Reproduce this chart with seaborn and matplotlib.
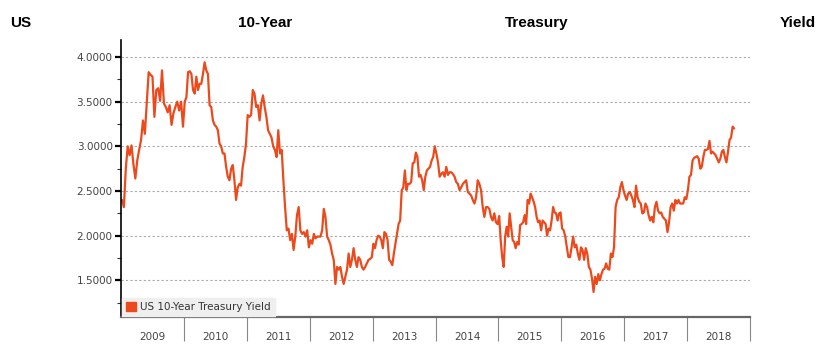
import numpy as np
import pandas as pd
import matplotlib
matplotlib.use("Agg")
import matplotlib.pyplot as plt
import seaborn as sns
from matplotlib.patches import Patch
from matplotlib.ticker import MultipleLocator, FormatStrFormatter

# yield values, one list per calendar year
years = [2009, 2010, 2011, 2012, 2013, 2014, 2015, 2016, 2017, 2018]
y2009 = [2.40, 2.32, 2.75, 3.00, 2.90, 3.01, 2.80, 2.64, 2.84, 2.96, 3.07, 3.29, 3.14, 3.48,
         3.83, 3.80, 3.78, 3.33, 3.63, 3.65, 3.51, 3.85, 3.48, 3.44, 3.38, 3.46, 3.24, 3.37,
         3.44, 3.50, 3.40, 3.50, 3.22]
y2010 = [3.50, 3.55, 3.83, 3.84, 3.81, 3.63, 3.59, 3.78, 3.63, 3.70, 3.70, 3.81, 3.94, 3.85,
         3.81, 3.46, 3.44, 3.29, 3.24, 3.22, 3.18, 3.03, 3.00, 2.92, 2.92, 2.77, 2.66, 2.62,
         2.75, 2.79, 2.62, 2.40, 2.54, 2.58, 2.56, 2.77, 2.88, 3.03]
y2011 = [3.35, 3.33, 3.35, 3.63, 3.59, 3.44, 3.46, 3.29, 3.48, 3.57, 3.44, 3.33, 3.18, 3.14,
         3.10, 3.00, 2.96, 2.88, 3.18, 2.92, 2.96, 2.62, 2.32, 2.06, 2.08, 1.95, 2.02, 1.84,
         1.99, 2.23, 2.32, 2.06, 2.02, 2.04, 1.99, 2.06, 1.87]
y2012 = [1.95, 1.91, 2.02, 1.97, 1.99, 1.99, 1.99, 2.06, 2.30, 2.21, 1.99, 1.95, 1.90, 1.80,
         1.73, 1.46, 1.65, 1.62, 1.65, 1.54, 1.46, 1.54, 1.62, 1.80, 1.65, 1.73, 1.86, 1.73,
         1.65, 1.76, 1.73, 1.65, 1.62, 1.65, 1.69, 1.73, 1.74, 1.76]
y2013 = [1.91, 1.86, 1.95, 2.00, 1.99, 1.95, 1.86, 2.04, 2.02, 1.95, 1.73, 1.71, 1.67, 1.80,
         1.91, 2.02, 2.13, 2.17, 2.51, 2.54, 2.73, 2.51, 2.58, 2.58, 2.60, 2.81, 2.82, 2.93,
         2.88, 2.66, 2.68, 2.62, 2.51, 2.66, 2.73, 2.75, 2.77, 2.84, 2.88, 3.00]
y2014 = [2.92, 2.82, 2.66, 2.69, 2.71, 2.66, 2.77, 2.68, 2.71, 2.71, 2.69, 2.66, 2.60, 2.58,
         2.51, 2.54, 2.58, 2.60, 2.62, 2.49, 2.47, 2.45, 2.40, 2.36, 2.43, 2.62, 2.58, 2.51,
         2.32, 2.21, 2.32, 2.32, 2.30, 2.21, 2.17, 2.25, 2.15, 2.13]
y2015 = [2.22, 1.95, 1.76, 1.65, 1.99, 2.10, 1.99, 2.25, 2.10, 1.95, 1.93, 1.86, 1.93, 1.90,
         2.12, 2.13, 2.15, 2.23, 2.13, 2.40, 2.36, 2.47, 2.43, 2.38, 2.32, 2.21, 2.15, 2.17,
         2.06, 2.17, 2.15, 2.13, 2.00, 2.08, 2.06, 2.17, 2.32, 2.26, 2.25, 2.17, 2.25, 2.26]
y2016 = [2.08, 2.06, 1.99, 1.87, 1.76, 1.76, 1.87, 1.99, 1.87, 1.90, 1.80, 1.73, 1.87, 1.84,
         1.73, 1.86, 1.80, 1.65, 1.62, 1.52, 1.37, 1.54, 1.46, 1.57, 1.50, 1.57, 1.62, 1.63,
         1.69, 1.63, 1.62, 1.80, 1.76, 1.87, 2.32, 2.40, 2.43, 2.54, 2.60, 2.51]
y2017 = [2.45, 2.40, 2.47, 2.49, 2.45, 2.40, 2.32, 2.56, 2.43, 2.38, 2.36, 2.25, 2.26, 2.36,
         2.32, 2.23, 2.17, 2.21, 2.15, 2.32, 2.38, 2.28, 2.25, 2.26, 2.21, 2.19, 2.17, 2.04,
         2.15, 2.32, 2.36, 2.28, 2.40, 2.36, 2.40, 2.36, 2.36, 2.36, 2.43, 2.41]
y2018 = [2.51, 2.66, 2.68, 2.84, 2.87, 2.88, 2.89, 2.86, 2.75, 2.77, 2.88, 2.96, 2.96, 2.97,
         3.06, 2.92, 2.94, 2.92, 2.90, 2.86, 2.82, 2.86, 2.94, 2.96, 2.88, 2.82, 2.94, 3.07,
         3.10, 3.22, 3.20]
last_year_span = 0.76  # series stops in early October 2018

year_labels = [str(y) for y in years]
series_name = "US 10-Year Treasury Yield"
line_color = "#ec4a1c"

rows = []
for yr, vals in zip(years, [y2009, y2010, y2011, y2012, y2013, y2014, y2015, y2016, y2017, y2018]):
    span = last_year_span if yr == 2018 else 1.0
    n = len(vals)
    for i, v in enumerate(vals):
        rows.append((yr + span * (i + 0.5) / n, v))
df = pd.DataFrame(rows, columns=["t", "yield"])

sns.set_style("white")
plt.rcParams["font.family"] = ["DejaVu Sans"]

fig = plt.figure(figsize=(8.37, 3.58), dpi=100)
ax = fig.add_axes([0.1446, 0.1145, 0.7515, 0.7738])
sns.lineplot(data=df, x="t", y="yield", color=line_color, lw=1.6, ax=ax, legend=False)

ax.set_xlim(2009, 2019)
ax.set_ylim(1.09, 4.19)
ax.set_xlabel("")
ax.set_ylabel("")

# y axis
ax.yaxis.set_major_locator(MultipleLocator(0.5))
ax.yaxis.set_minor_locator(MultipleLocator(0.25))
ax.yaxis.set_major_formatter(FormatStrFormatter("%.4f"))
ax.tick_params(axis="y", which="both", left=True, direction="out")
ax.tick_params(axis="y", which="major", length=4, width=1.6, color="black",
               labelsize=7.5, labelcolor="#444444", pad=2)
ax.tick_params(axis="y", which="minor", length=3, width=0.8, color="#333333")
ax.grid(axis="y", which="major", ls=(0, (2, 2)), color="#aaaaaa", lw=0.8)

# x axis: separators at year boundaries, labels in the middle of each year
ax.set_xticks(range(2010, 2020))
ax.set_xticklabels([])
ax.set_xticks([y + 0.5 for y in years], minor=True)
ax.set_xticklabels(year_labels, minor=True)
ax.tick_params(axis="x", which="both", bottom=True, direction="out")
ax.tick_params(axis="x", which="major", length=17, width=0.8, color="#888888")
ax.tick_params(axis="x", which="minor", length=0, labelsize=7.5, labelcolor="#444444", pad=11)

for s in ["top", "right"]:
    ax.spines[s].set_visible(False)
ax.spines["left"].set_color("black")
ax.spines["left"].set_linewidth(1.2)
ax.spines["bottom"].set_color("#666666")
ax.spines["bottom"].set_linewidth(1.6)

leg = ax.legend(handles=[Patch(facecolor=line_color, edgecolor=line_color, label=series_name)],
                loc="lower left", borderaxespad=0.1, frameon=True, fancybox=False,
                facecolor="#efefef", edgecolor="#efefef", fontsize=7.5,
                handlelength=0.9, handleheight=0.9, handletextpad=0.4, labelcolor="#333333")
leg.get_frame().set_alpha(1)

# justified title
ty = 1 - 23 / 358
tkw = dict(fontsize=11, fontweight="bold", va="center", family="Liberation Sans", color="black")
fig.text(10 / 837, ty, "US", ha="left", **tkw)
fig.text(238 / 837, ty, "10-Year", ha="left", **tkw)
fig.text(505 / 837, ty, "Treasury", ha="left", **tkw)
fig.text(816 / 837, ty, "Yield", ha="right", **tkw)

fig.savefig("out.png", dpi=100)
